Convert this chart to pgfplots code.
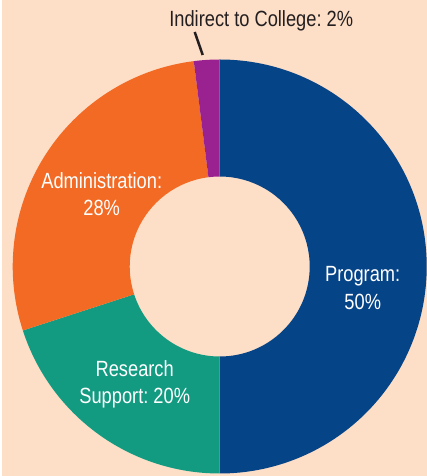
\documentclass[border=0pt]{standalone}
\usepackage{fontspec}
\setmainfont[FakeStretch=0.83]{Liberation Sans}
\frenchspacing
\usepackage{pgfplots}
\usepackage{pgfplotstable}
\pgfplotsset{compat=1.18}

\definecolor{bgc}{HTML}{FDDEC7}
\definecolor{cprog}{HTML}{064488}
\definecolor{cres}{HTML}{139B82}
\definecolor{cadm}{HTML}{F26A24}
\definecolor{cind}{HTML}{9A2290}
\definecolor{ctxt}{HTML}{231F20}

% share in percent, start = cumulative share before the slice (clockwise from top)
\pgfplotstableread{
x   y     share start class
218 209.5 50    0     prog
218 209.5 20    50    res
218 209.5 28    70    adm
218 209.5 2     98    ind
}\shares

% one donut slice, drawn at the data point
\pgfdeclareplotmark{slice}{%
  \pgfmathsetmacro\aS{90-3.6*\st}%
  \pgfmathsetmacro\aE{\aS-3.6*\sh}%
  \pgfpathmoveto{\pgfpointpolar{\aS}{207pt}}%
  \pgfpatharc{\aS}{\aE}{207pt}%
  \pgfpathlineto{\pgfpointpolar{\aE}{90pt}}%
  \pgfpatharc{\aE}{\aS}{90pt}%
  \pgfpathclose
  \pgfusepathqfill
}

\begin{document}
\begin{tikzpicture}
\begin{axis}[
    set layers=standard,
    x=1pt, y=1pt,
    xmin=0, xmax=425,
    ymin=0, ymax=476,
    axis line style={draw=none},
    ticks=none,
    axis background/.style={fill=bgc},
    clip=false,
    font=\fontsize{22}{26}\selectfont,
]

\addplot[
    scatter, only marks, mark=slice,
    point meta=explicit symbolic,
    scatter/classes={
        prog={fill=cprog, draw=none},
        res={fill=cres, draw=none},
        adm={fill=cadm, draw=none},
        ind={fill=cind, draw=none}},
    visualization depends on={\thisrow{start} \as \st},
    visualization depends on={\thisrow{share} \as \sh},
] table[x=x, y=y, meta=class] {\shares};

\begin{pgfonlayer}{axis foreground}
\node[white, anchor=base] at (axis cs:361,194) {Program:};
\node[white, anchor=base] at (axis cs:361,166) {50\%};
\node[white, anchor=base] at (axis cs:100,287) {Administration:};
\node[white, anchor=base] at (axis cs:100,260) {28\%};
\node[white, anchor=base] at (axis cs:133,99) {Research};
\node[white, anchor=base] at (axis cs:133,72) {Support: 20\%};
\node[ctxt, anchor=base] at (axis cs:259.5,449) {Indirect to College: 2\%};
\draw[ctxt, line width=2.5pt] (axis cs:193,444) -- (axis cs:201,421);
\end{pgfonlayer}

\end{axis}
\end{tikzpicture}
\end{document}
